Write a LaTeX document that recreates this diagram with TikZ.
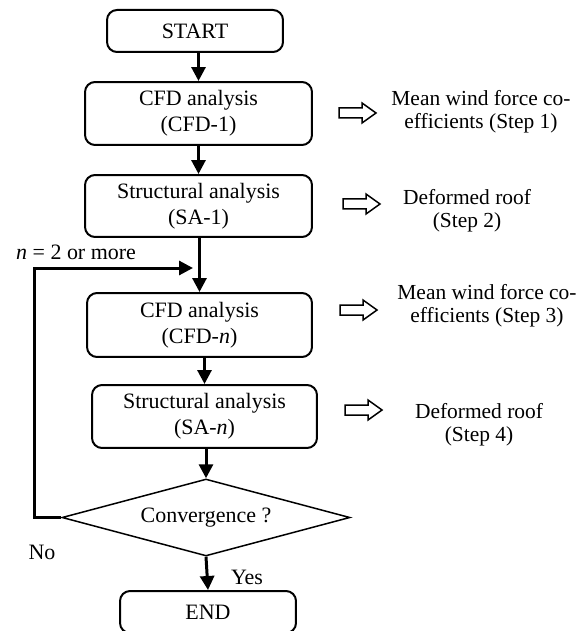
\documentclass[tikz,border=0pt]{standalone}
\usepackage{fontspec}
\setmainfont{Liberation Serif}
\usetikzlibrary{arrows.meta,shapes.geometric}

\tikzset{
  box/.style={draw,line width=0.04cm,rounded corners=0.2cm,align=center,inner sep=0pt},
  decision/.style={draw,diamond,line width=0.03cm,aspect=3.74,inner sep=0pt,
                   minimum width=5.76cm,minimum height=1.54cm},
  arr/.style={line width=0.06cm,-{Triangle[length=0.28cm,width=0.28cm]}},
  result/.style={align=center,font=\fontsize{12.2}{13}\selectfont},
  hollow/.pic={\draw[line width=0.03cm] (0,-5) -- (23,-5) -- (23,-10) -- (37,0)
                 -- (23,10) -- (23,5) -- (0,5) -- cycle;}
}

\begin{document}
\begin{tikzpicture}[x=0.02cm,y=-0.02cm,font=\fontsize{12.5}{15}\selectfont]
   \useasboundingbox (0,0) rectangle (585,631);
   % main column
   \node[box,minimum width=3.52cm,minimum height=0.84cm] (start) at (195,31) {START};
   \node[box,minimum width=4.54cm,minimum height=1.26cm] (cfd1) at (198.5,113.5) {CFD analysis\\(CFD-1)};
   \node[box,minimum width=4.54cm,minimum height=1.24cm] (sa1) at (198.5,206) {Structural analysis\\(SA-1)};
   \node[box,minimum width=4.5cm,minimum height=1.28cm] (cfdn) at (199.5,325) {CFD analysis\\(CFD-\textit{n})};
   \node[box,minimum width=4.5cm,minimum height=1.26cm] (san) at (204.5,416.5) {Structural analysis\\(SA-\textit{n})};
   \node[decision] (conv) at (206,517.5) {Convergence ?};
   \node[box,minimum width=3.52cm,minimum height=0.84cm] (end) at (208,612) {END};
   \draw[arr] (cfd1 |- start.south) -- (cfd1.north);
   \draw[arr] (sa1 |- cfd1.south) -- (sa1.north);
   \draw[arr] (cfdn |- sa1.south) -- (cfdn.north);
   \draw[arr] (san |- cfdn.south) -- (san.north);
   \draw[arr] (conv |- san.south) -- (conv.north);
   \draw[arr] (conv.south) -- (end.north);
   % loop back
   \coordinate (corner) at (34,268);
   \coordinate (join) at (193,268);
   \draw[arr] (conv.west) -| (corner) -- (join);
   \node[anchor=west] (nlab) at (10,252) {\textit{n} = 2 or more};
   \node (no) at (42,552) {No};
   \node (yes) at (247,577) {Yes};
   % outputs
   \pic at (339,113) {hollow};
   \pic at (343,204) {hollow};
   \pic at (340,310) {hollow};
   \pic at (345,410) {hollow};
   \node[result] (res1) at (481,112) {Mean wind force co-\\efficients (Step 1)};
   \node[result] (res2) at (467,211) {Deformed roof\\(Step 2)};
   \node[result] (res3) at (487,306) {Mean wind force co-\\efficients (Step 3)};
   \node[result] (res4) at (479,425) {Deformed roof\\(Step 4)};
\end{tikzpicture}
\end{document}
